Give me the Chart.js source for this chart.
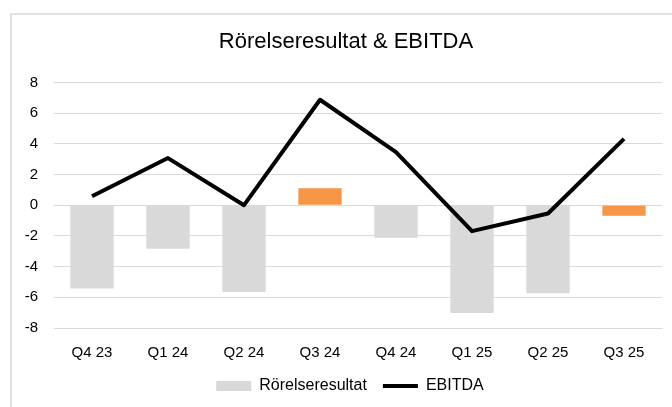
<!DOCTYPE html>
<html>
<head>
<meta charset="utf-8">
<script src="https://cdn.jsdelivr.net/npm/chart.js@4.4.1/dist/chart.umd.min.js"></script>
<style>
  html, body { margin: 0; padding: 0; background: #fff; }
  #wrap { position: relative; width: 672px; height: 407px; overflow: hidden; }
  #frame { position: absolute; left: 10px; top: 13px; width: 700px; height: 430px;
           border: 2px solid #e2e2e2; box-sizing: border-box; }
  #chart_rorelse { position: absolute; left: 0; top: 0; }
</style>
</head>
<body>
<div id="wrap">
  <div id="frame"></div>
  <canvas id="chart_rorelse" width="672" height="407"></canvas>
</div>
<script>
// kvartal
var quarters = ['Q4 23', 'Q1 24', 'Q2 24', 'Q3 24', 'Q4 24', 'Q1 25', 'Q2 25', 'Q3 25'];
// Rörelseresultat (staplar)
var rorelseresultat = [-5.43, -2.83, -5.66, 1.10, -2.12, -7.03, -5.73, -0.69];
// EBITDA (linje)
var ebitda = [0.58, 3.07, 0.0, 6.87, 3.46, -1.69, -0.54, 4.32];
// staplar markerade i orange
var highlighted = ['Q3 24', 'Q3 25'];
var yTicks = [-8, -6, -4, -2, 0, 2, 4, 6, 8];

var barColors = quarters.map(function(q) {
    return highlighted.indexOf(q) >= 0 ? '#f79646' : '#d9d9d9';
});

var font = "'Liberation Sans', Arial, sans-serif";

var chart_rorelse = new Chart(document.getElementById('chart_rorelse'), {
    type: 'bar',
    data: {
        labels: quarters,
        datasets: [
            {
                type: 'line',
                label: 'EBITDA',
                data: ebitda,
                borderColor: '#000000',
                backgroundColor: '#000000',
                borderWidth: 4,
                borderJoinStyle: 'round',
                pointRadius: 0,
                tension: 0,
                pointStyle: 'line',
                order: 0
            },
            {
                label: 'Rörelseresultat',
                data: rorelseresultat,
                backgroundColor: barColors,
                categoryPercentage: 1.0,
                barPercentage: 0.57,
                pointStyle: 'rect',
                order: 1
            }
        ]
    },
    options: {
        animation: false,
        responsive: false,
        layout: {
            padding: { left: 20, right: 10, top: 0, bottom: 3 }
        },
        plugins: {
            title: {
                display: true,
                text: 'Rörelseresultat & EBITDA',
                color: '#000',
                font: { family: font, size: 22, weight: 'normal' },
                padding: { top: 29, bottom: 27 }
            },
            legend: {
                position: 'bottom',
                reverse: true,
                labels: {
                    usePointStyle: true,
                    pointStyleWidth: 35,
                    boxWidth: 35,
                    boxHeight: 10,
                    padding: 16,
                    color: '#000',
                    font: { family: font, size: 16 }
                }
            },
            tooltip: { enabled: false }
        },
        scales: {
            x: {
                afterFit: function(scale) { scale.height = 34; },
                grid: { display: false, drawTicks: false },
                border: { display: false },
                ticks: {
                    color: '#000',
                    padding: 17,
                    maxRotation: 0,
                    font: { family: font, size: 15, lineHeight: 1 }
                }
            },
            y: {
                min: -8,
                max: 8,
                afterBuildTicks: function(scale) {
                    scale.ticks = yTicks.map(function(v) { return { value: v }; });
                },
                afterFit: function(scale) { scale.width = 34; },
                grid: { color: '#d9d9d9', lineWidth: 1, drawTicks: false },
                border: { display: false },
                ticks: {
                    color: '#000',
                    padding: 16,
                    font: { family: font, size: 15 }
                }
            }
        }
    },
    plugins: [{
        id: 'centerOnFrame',
        afterLayout: function(chart) {
            // title and legend are centred on the outer frame, not the canvas
            chart.titleBlock.left += 10;
            chart.legend.left += 18;
        }
    }]
});
</script>
</body>
</html>
